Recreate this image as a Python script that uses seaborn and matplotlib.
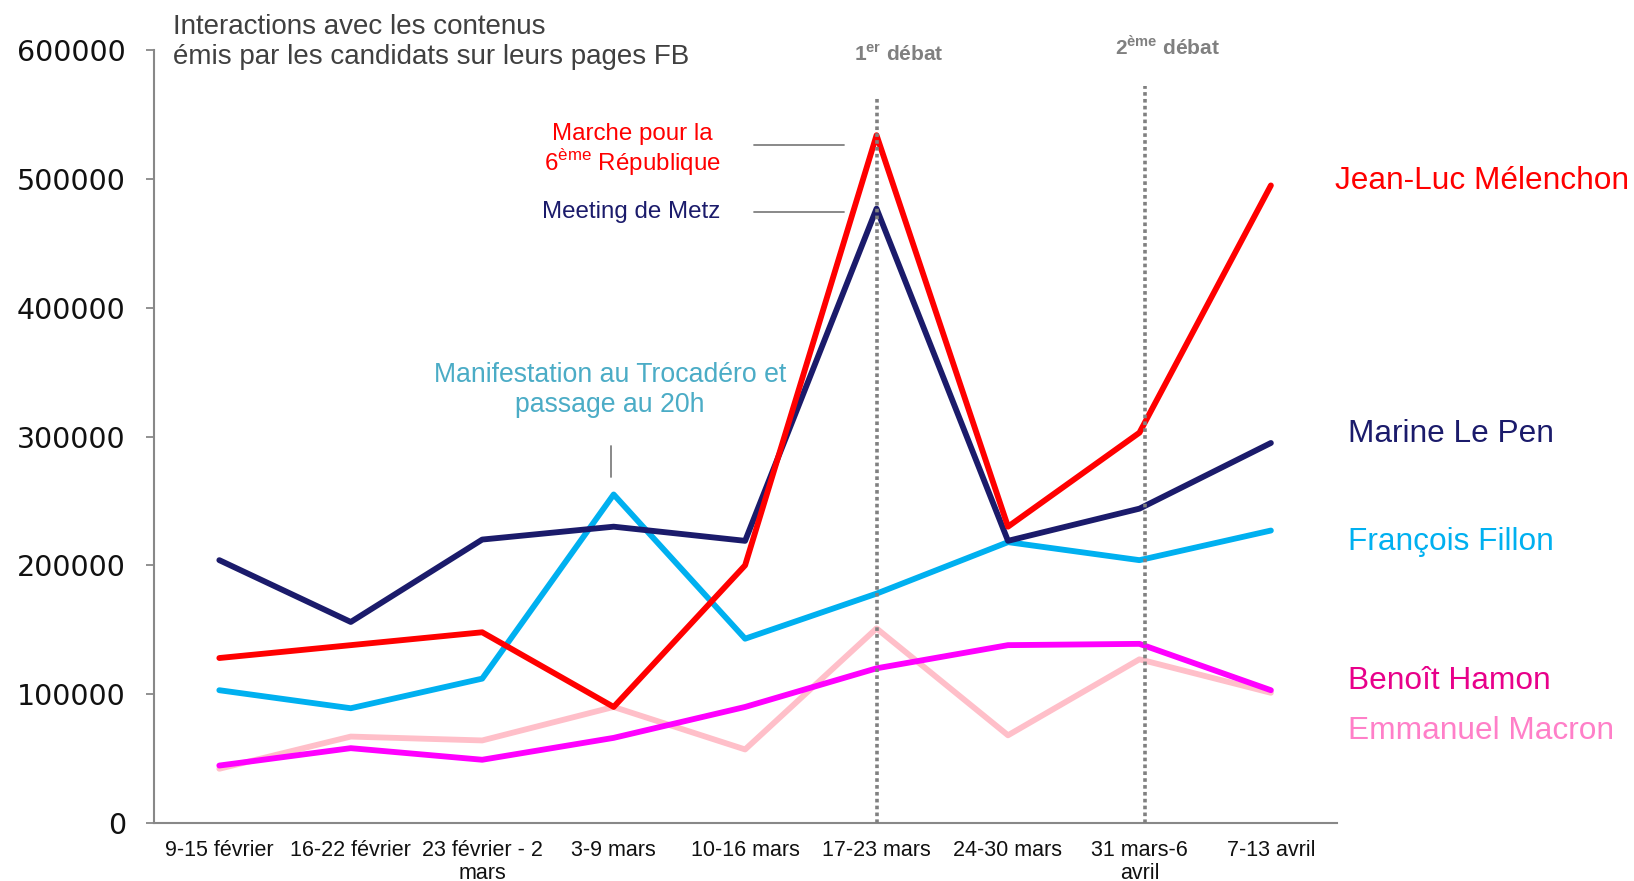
#!/usr/bin/env python3
"""Interactions FB des candidats, fév.-avril 2017."""

import matplotlib
matplotlib.use("Agg")
import matplotlib.pyplot as plt
import seaborn as sns
import pandas as pd
import numpy as np

weeks = ["9-15 février", "16-22 février", "23 février - 2\nmars", "3-9 mars",
         "10-16 mars", "17-23 mars", "24-30 mars", "31 mars-6\navril", "7-13 avril"]

melenchon = [128000, 138000, 148000, 90000, 200000, 534000, 230000, 303000, 495000]
le_pen = [204000, 156000, 220000, 230000, 219000, 477000, 219000, 244000, 295000]
fillon = [103000, 89000, 112000, 255000, 143000, 178000, 218000, 204000, 227000]
hamon = [44500, 58000, 49000, 66000, 90000, 120000, 138000, 139000, 103000]
macron = [42000, 67000, 64000, 90000, 57000, 151000, 68000, 127000, 101000]

candidates = ["Emmanuel Macron", "Benoît Hamon", "François Fillon", "Marine Le Pen", "Jean-Luc Mélenchon"]
line_colors = {"Emmanuel Macron": "#FFBFC9", "Benoît Hamon": "#FF00FF", "François Fillon": "#00B0F0",
               "Marine Le Pen": "#1B1B6B", "Jean-Luc Mélenchon": "#FF0000"}
label_colors = {"Emmanuel Macron": "#FF7FC8", "Benoît Hamon": "#E8008A", "François Fillon": "#00B0F0",
                "Marine Le Pen": "#1B1B6B", "Jean-Luc Mélenchon": "#FF0000"}
label_pos = {"Jean-Luc Mélenchon": (8.49, 498500), "Marine Le Pen": (8.59, 302300),
             "François Fillon": (8.59, 218000), "Benoît Hamon": (8.59, 110000),
             "Emmanuel Macron": (8.59, 71200)}

# debates: 1er on 17-23 mars, 2ème during 31 mars-6 avril
debate_x = [5.0, 7.04]
debate_top = [564000, 572000]

series = {"Jean-Luc Mélenchon": melenchon, "Marine Le Pen": le_pen, "François Fillon": fillon,
          "Benoît Hamon": hamon, "Emmanuel Macron": macron}
df = pd.concat([pd.DataFrame({"x": np.arange(len(weeks)), "value": v, "candidat": k})
                for k, v in series.items()], ignore_index=True)

sns.set_theme(style="white")
plt.rcParams["font.family"] = ["Liberation Sans", "DejaVu Sans"]

fig = plt.figure(figsize=(16.34, 8.81), dpi=100)
ax = fig.add_axes([0.094, 0.066, 0.724, 0.877])

for name in candidates:
    sns.lineplot(data=df[df["candidat"] == name], x="x", y="value", color=line_colors[name],
                 linewidth=4.2, ax=ax, legend=False, zorder=3)

for xd, top in zip(debate_x, debate_top):
    ax.plot([xd, xd], [0, top], color="#808080", linewidth=2.6, linestyle=(0, (1, 0.9)), zorder=4)

ax.set_xlim(-0.5, len(weeks) - 0.5)
ax.set_ylim(0, 600000)
ax.set_xlabel("")
ax.set_ylabel("")

ax.set_yticks(np.arange(0, 600001, 100000))
ax.set_yticklabels([str(v) for v in range(0, 600001, 100000)], fontsize=20.5, color="#111111",
                   family="DejaVu Sans")
ax.set_xticks(np.arange(-0.5, len(weeks)), minor=False)
ax.set_xticklabels([])
ax.set_xticks(np.arange(len(weeks)), minor=True)
ax.set_xticklabels(weeks, minor=True, fontsize=15.5, color="#111111", linespacing=1.15)
ax.tick_params(axis="x", which="major", direction="out", length=7, color="#888888", width=1.3)
ax.tick_params(axis="x", which="minor", length=0, pad=12)
ax.tick_params(axis="y", direction="out", length=6, color="#888888", width=1.3, pad=14, left=True)

for s in ["top", "right"]:
    ax.spines[s].set_visible(False)
for s in ["left", "bottom"]:
    ax.spines[s].set_color("#888888")
    ax.spines[s].set_linewidth(1.5)

ax.text(-0.356, 606000, "Interactions avec les contenus\némis par les candidats sur leurs pages FB",
        fontsize=20, color="#404040", ha="left", va="center", linespacing=1.2, clip_on=False)

ax.text(5.17, 596700, r"1$^{\mathregular{er}}$ débat", fontsize=15, fontweight="bold",
        color="#808080", ha="center", va="center", clip_on=False)
ax.text(7.215, 603200, r"2$^{\mathregular{ème}}$ débat", fontsize=15, fontweight="bold",
        color="#808080", ha="center", va="center", clip_on=False)

ax.text(3.14, 522000, "Marche pour la\n6$^{\\mathregular{ème}}$ République", fontsize=17.4,
        color="#FF0000", ha="center", va="center", linespacing=1.1)
ax.text(3.13, 474600, "Meeting de Metz", fontsize=17.4, color="#1B1B6B", ha="center", va="center")
ax.text(2.97, 336500, "Manifestation au Trocadéro et\npassage au 20h", fontsize=19.2,
        color="#4BACC6", ha="center", va="center", linespacing=1.2)

ax.plot([4.07, 4.75], [526400, 526400], color="#808080", linewidth=1.3)
ax.plot([4.07, 4.75], [474600, 474600], color="#808080", linewidth=1.3)
ax.plot([2.98, 2.98], [268500, 292700], color="#808080", linewidth=1.3)

for name, (lx, ly) in label_pos.items():
    ax.text(lx, ly, name, fontsize=22.8, color=label_colors[name], ha="left", va="center",
            clip_on=False)

fig.savefig("out.png", dpi=100, facecolor="white")
plt.close(fig)
